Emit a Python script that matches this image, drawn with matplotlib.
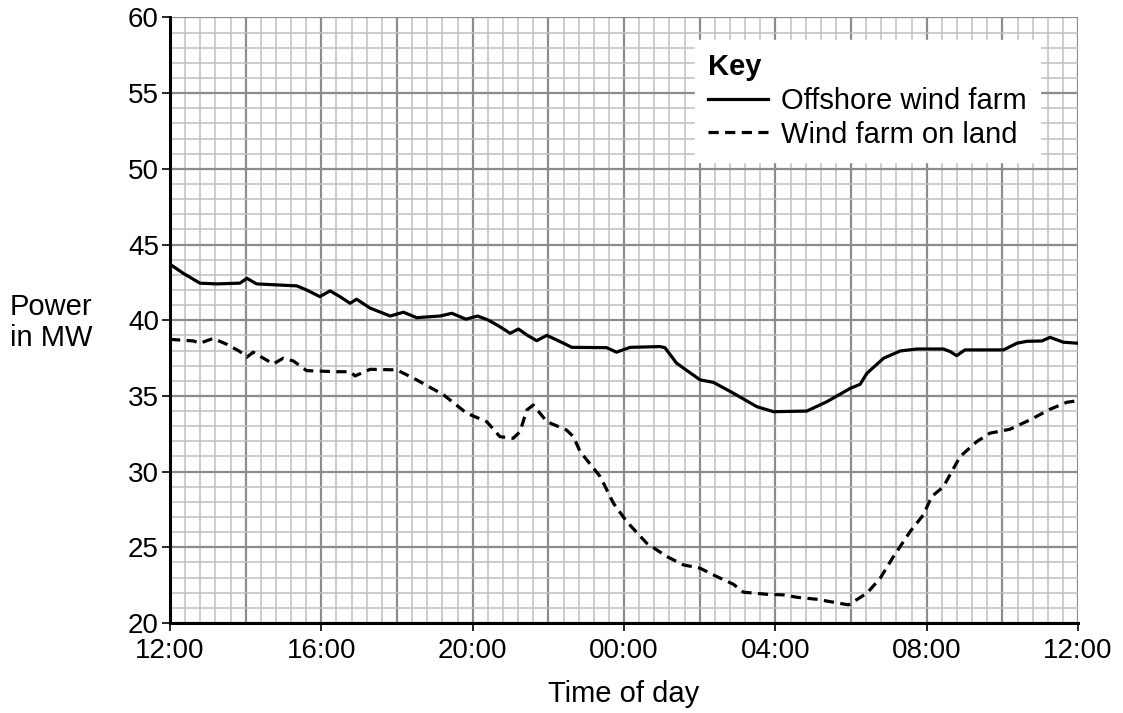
import numpy as np
import matplotlib
matplotlib.use('Agg')
import matplotlib.pyplot as plt

plt.rcParams['font.family'] = ['Liberation Sans', 'DejaVu Sans']

# hours after 12:00 and power in MW
offshore_h = [0, 0.35, 0.79, 1.23, 1.85, 2.03, 2.29, 3.35, 3.61, 3.96, 4.23, 4.49, 4.76,
              4.93, 5.29, 5.82, 6.17, 6.52, 7.14, 7.45, 7.82, 8.13, 8.42, 8.70, 8.99,
              9.21, 9.43, 9.69, 9.96, 10.31, 10.62, 11.54, 11.80, 12.16, 12.95, 13.08,
              13.39, 14.01, 14.36, 14.89, 15.51, 15.95, 16.83, 17.36, 17.98, 18.24,
              18.42, 18.86, 19.30, 19.74, 20.44, 20.62, 20.79, 21.01, 22.03, 22.38,
              22.65, 23.04, 23.26, 23.61, 24.0]
offshore_mw = [43.7, 43.1, 42.45, 42.4, 42.45, 42.77, 42.4, 42.27, 42.0, 41.56, 41.94,
               41.56, 41.12, 41.39, 40.8, 40.28, 40.53, 40.17, 40.28, 40.46, 40.07,
               40.28, 40.0, 39.6, 39.14, 39.42, 39.03, 38.65, 39.0, 38.59, 38.21,
               38.19, 37.89, 38.21, 38.26, 38.19, 37.16, 36.06, 35.9, 35.18, 34.29,
               33.96, 34.0, 34.62, 35.5, 35.77, 36.5, 37.49, 37.97, 38.1, 38.1, 37.93,
               37.66, 38.04, 38.04, 38.48, 38.61, 38.63, 38.87, 38.55, 38.48]

land_h = [0, 0.62, 0.79, 1.14, 1.50, 1.85, 2.03, 2.20, 2.47, 2.73, 2.99, 3.26, 3.61,
          4.40, 4.76, 4.89, 5.29, 5.99, 6.26, 6.52, 7.23, 7.84, 8.37, 8.72, 9.07, 9.25,
          9.43, 9.60, 9.96, 10.48, 10.66, 10.84, 11.37, 11.72, 12.07, 12.60, 13.13,
          13.57, 14.01, 14.45, 14.89, 15.15, 15.77, 16.21, 16.57, 17.09, 17.93, 18.42,
          18.77, 19.12, 19.56, 19.91, 20.13, 20.44, 20.88, 21.32, 21.67, 22.20, 22.73,
          23.26, 23.70, 24.0]
land_mw = [38.74, 38.63, 38.48, 38.8, 38.41, 37.93, 37.56, 37.89, 37.49, 37.11, 37.49,
           37.31, 36.67, 36.6, 36.6, 36.32, 36.76, 36.72, 36.39, 36.06, 35.07, 33.86,
           33.3, 32.31, 32.2, 32.64, 34.07, 34.4, 33.3, 32.75, 32.31, 31.32, 29.67,
           27.91, 26.7, 25.27, 24.39, 23.84, 23.62, 23.07, 22.56, 22.04, 21.9, 21.86,
           21.7, 21.57, 21.2, 21.97, 22.96, 24.39, 26.04, 27.14, 28.35, 29.0, 30.99,
           31.98, 32.54, 32.8, 33.42, 34.12, 34.58, 34.69]

tick_hours = [0, 4, 8, 12, 16, 20, 24]
tick_labels = ['12:00', '16:00', '20:00', '00:00', '04:00', '08:00', '12:00']

fig = plt.figure(figsize=(11.23, 7.13), dpi=100)
ax = fig.add_axes([0.1514, 0.1262, 0.8086, 0.8493])
ax.set_xlim(0, 24)
ax.set_ylim(20, 60)

# graph paper grid
for x in np.arange(0, 24.01, 0.4):
    major = abs(x / 2 - round(x / 2)) < 1e-6
    ax.axvline(x, color='#8c8c8c' if major else '#c0c0c0', lw=1.6 if major else 1.1, zorder=0)
for y in range(20, 61):
    major = y % 5 == 0
    ax.axhline(y, color='#8c8c8c' if major else '#c0c0c0', lw=1.6 if major else 1.1, zorder=0)

ax.plot(offshore_h, offshore_mw, color='black', lw=2.3, label='Offshore wind farm')
ax.plot(land_h, land_mw, color='black', lw=2.3, linestyle=(0, (3.2, 2)),
        label='Wind farm on land')

ax.set_xticks(tick_hours)
ax.set_xticklabels(tick_labels)
ax.set_yticks(range(20, 61, 5))
ax.tick_params(labelsize=20, length=6, width=1.2, color='black')
ax.tick_params(axis='x', pad=5)
ax.tick_params(axis='y', pad=2)

for s in ['top', 'right']:
    ax.spines[s].set_visible(False)
for s in ['left', 'bottom']:
    ax.spines[s].set_linewidth(2.2)

ax.set_xlabel('Time of day', fontsize=21, labelpad=11)
fig.text(0.009, 0.548, 'Power\nin MW', fontsize=21, ha='left', va='center', linespacing=1.15)

leg = ax.legend(loc='upper right', bbox_to_anchor=(0.958, 0.963), borderaxespad=0,
                fontsize=21, title='Key', title_fontproperties={'weight': 'bold', 'size': 21},
                alignment='left', frameon=True, fancybox=False, handlelength=2.05,
                handletextpad=0.45, borderpad=0.45, labelspacing=0.2)
leg.get_frame().set_edgecolor('white')
leg.get_frame().set_alpha(1)

fig.savefig('out.png', dpi=100)
